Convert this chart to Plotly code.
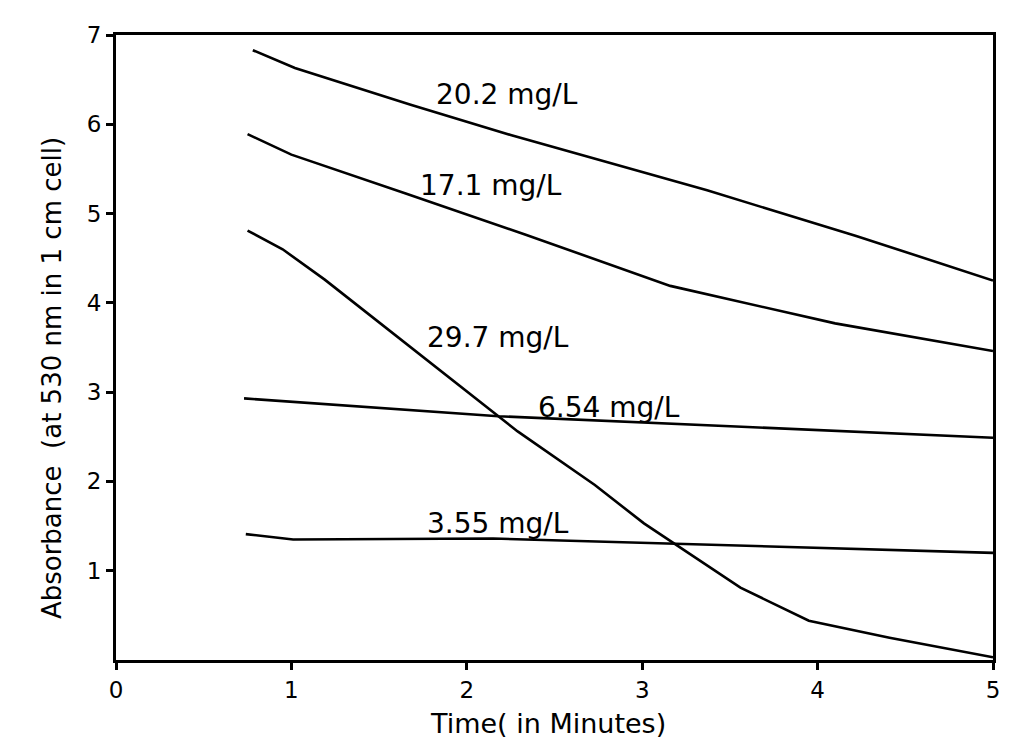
import plotly.graph_objects as go

# Data read from the (slightly rotated) scanned chart, expressed in the chart's own axes
time_202 = [0.78, 1.02, 1.68, 2.25, 3.37, 4.22, 5.00]
abs_202 = [6.83, 6.63, 6.22, 5.88, 5.26, 4.75, 4.25]

time_171 = [0.75, 1.00, 1.66, 2.34, 3.16, 4.10, 5.00]
abs_171 = [5.89, 5.66, 5.22, 4.76, 4.19, 3.77, 3.46]

time_297 = [0.75, 0.95, 1.19, 1.78, 2.29, 2.73, 3.01, 3.56, 3.95, 4.41, 5.00]
abs_297 = [4.81, 4.60, 4.26, 3.35, 2.56, 1.96, 1.53, 0.81, 0.44, 0.25, 0.03]

time_654 = [0.73, 2.18, 3.60, 5.00]
abs_654 = [2.93, 2.73, 2.61, 2.49]

time_355 = [0.74, 1.01, 2.15, 3.57, 5.00]
abs_355 = [1.41, 1.35, 1.36, 1.28, 1.20]

series_names = ["20.2 mg/L", "17.1 mg/L", "29.7 mg/L", "6.54 mg/L", "3.55 mg/L"]
label_time = [2.23, 2.14, 2.18, 2.81, 2.18]
label_abs = [6.33, 5.31, 3.61, 2.83, 1.53]

x_ticks = [0, 1, 2, 3, 4, 5]
y_ticks = [1, 2, 3, 4, 5, 6, 7]

FONT = "DejaVu Sans"

fig = go.Figure()
all_x = [time_202, time_171, time_297, time_654, time_355]
all_y = [abs_202, abs_171, abs_297, abs_654, abs_355]
for xs, ys, name in zip(all_x, all_y, series_names):
    fig.add_trace(go.Scatter(x=xs, y=ys, mode="lines", name=name,
                             line=dict(color="black", width=2.6), showlegend=False))

for tx, ty, name in zip(label_time, label_abs, series_names):
    fig.add_annotation(x=tx, y=ty, text=name, showarrow=False,
                       font=dict(family=FONT, size=28, color="black"),
                       xanchor="center", yanchor="middle")

fig.add_annotation(xref="paper", yref="paper", x=-0.073, y=0.451,
                   text="Absorbance\u00a0\u00a0(at 530 nm in 1 cm cell)", textangle=-90,
                   showarrow=False, font=dict(family=FONT, size=26, color="black"),
                   xanchor="center", yanchor="middle")
fig.add_annotation(xref="paper", yref="paper", x=0.4926, y=-0.102,
                   text="Time( in Minutes)", showarrow=False,
                   font=dict(family=FONT, size=27, color="black"),
                   xanchor="center", yanchor="middle")

axis_common = dict(showgrid=False, zeroline=False, type="linear",
                   ticks="outside", ticklen=7, tickwidth=2.5, tickcolor="black",
                   showline=True, linewidth=3, linecolor="black", mirror=True,
                   tickfont=dict(family=FONT, size=23, color="black"))
fig.update_layout(
    width=1016, height=740,
    margin=dict(l=116, r=23, t=35, b=80),
    paper_bgcolor="white", plot_bgcolor="white",
    xaxis=dict(range=[0, 5], tickvals=x_ticks, ticktext=[str(v) for v in x_ticks],
               **axis_common),
    yaxis=dict(range=[0, 7], tickvals=y_ticks, ticktext=[str(v) for v in y_ticks],
               **axis_common),
)

fig.write_html("out.html")
